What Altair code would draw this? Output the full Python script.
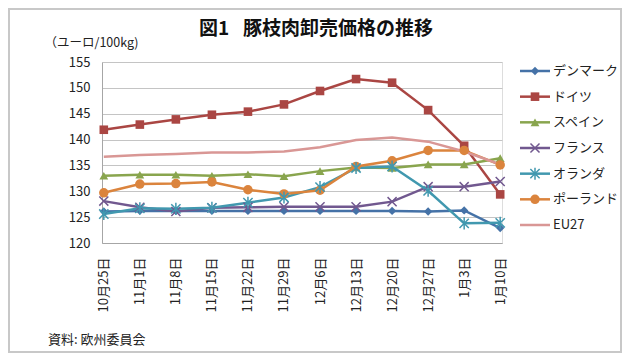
import altair as alt
import pandas as pd

dates = ["10月25日", "11月1日", "11月8日", "11月15日", "11月22日", "11月29日",
         "12月6日", "12月13日", "12月20日", "12月27日", "1月3日", "1月10日"]
series_names = ["デンマーク", "ドイツ", "スペイン", "フランス", "オランダ", "ポーランド", "EU27"]
denmark = [126.1, 126.2, 126.2, 126.2, 126.2, 126.2, 126.2, 126.2, 126.2, 126.1, 126.3, 122.9]
germany = [141.9, 142.9, 143.9, 144.8, 145.4, 146.8, 149.4, 151.7, 151.0, 145.7, 138.8, 129.4]
spain = [133.0, 133.2, 133.2, 133.0, 133.3, 132.9, 133.9, 134.6, 134.5, 135.2, 135.2, 136.4]
france = [128.1, 126.9, 126.1, 126.8, 126.9, 127.0, 127.0, 127.0, 128.0, 130.9, 130.9, 131.9]
netherlands = [125.6, 126.7, 126.6, 126.8, 127.8, 128.8, 130.8, 134.5, 134.8, 130.1, 123.8, 123.9]
poland = [129.7, 131.4, 131.5, 131.8, 130.3, 129.5, 130.2, 134.8, 135.9, 137.9, 137.9, 135.1]
eu27 = [136.7, 137.0, 137.2, 137.5, 137.5, 137.7, 138.5, 139.9, 140.4, 139.6, 137.7, 135.2]
y_ticks = [120, 125, 130, 135, 140, 145, 150, 155]

title_text = "図1 \u2002豚枝肉卸売価格の推移"
unit_text = "（ユーロ/100kg)"
source_text = "資料: 欧州委員会"

colors = ["#4572A7", "#AA4643", "#89A54E", "#71588F", "#4198AF", "#DB843D", "#D99795"]
marker_series = ["デンマーク", "ドイツ", "スペイン", "フランス", "オランダ", "ポーランド"]
marker_shapes = ["diamond", "square", "triangle-up",
                 "M-1,-1L1,1M-1,1L1,-1",
                 "M-1,-1L1,1M-1,1L1,-1M0,-1.3L0,1.3",
                 "circle"]
marker_sizes = [70, 90, 90, 64, 81, 110]
filled_series = ["デンマーク", "ドイツ", "スペイン", "ポーランド"]
stroked_series = ["フランス", "オランダ"]

FONT = "Noto Sans CJK JP"

values = [denmark, germany, spain, france, netherlands, poland, eu27]
rows = []
for name, vals in zip(series_names, values):
    for d, v in zip(dates, vals):
        rows.append({"date": d, "series": name, "value": v})
df = pd.DataFrame(rows)
legend_df = pd.DataFrame({"series": series_names})

color_enc = alt.Color("series:N", scale=alt.Scale(domain=series_names, range=colors), legend=None)
shape_enc = alt.Shape("series:N", scale=alt.Scale(domain=marker_series, range=marker_shapes), legend=None)
size_enc = alt.Size("series:N", scale=alt.Scale(domain=marker_series, range=marker_sizes), legend=None)

x_enc = alt.X("date:N", sort=dates, scale=alt.Scale(type="point", padding=0.05),
              axis=alt.Axis(title=None, labelAngle=-90, labelFont=FONT, labelFontSize=13,
                            labelColor="#222222", ticks=False, labelPadding=14,
                            domainColor="#A6A6A6", grid=False))
y_enc = alt.Y("value:Q", scale=alt.Scale(domain=[120, 155], nice=False, zero=False),
              axis=alt.Axis(values=y_ticks, title=unit_text, titleAngle=0, titleX=-58, titleY=-20,
                            titleAlign="left", titleBaseline="middle", titleFont=FONT,
                            titleFontSize=12.5, titleFontWeight="normal", titleColor="#222222",
                            labelFont=FONT, labelFontSize=13, labelColor="#222222", ticks=False,
                            labelOverlap=False, labelPadding=12, domainColor="#A6A6A6",
                            gridColor="#C4C4C4", grid=True))

base = alt.Chart(df)
lines = base.mark_line(strokeWidth=2.5).encode(x=x_enc, y=y_enc, color=color_enc, detail="series:N")
pts_filled = base.transform_filter(
    alt.FieldOneOfPredicate(field="series", oneOf=filled_series)
).mark_point(filled=True, opacity=1).encode(x=x_enc, y=y_enc, color=color_enc,
                                             shape=shape_enc, size=size_enc)
pts_stroked = base.transform_filter(
    alt.FieldOneOfPredicate(field="series", oneOf=stroked_series)
).mark_point(filled=False, opacity=1, strokeWidth=1.5).encode(x=x_enc, y=y_enc, color=color_enc,
                                                              shape=shape_enc, size=size_enc)
main = alt.layer(lines, pts_filled, pts_stroked)

ly = alt.Y("series:N", sort=series_names,
           scale=alt.Scale(type="point", range=[9, 163], padding=0), axis=None)
lbase = alt.Chart(legend_df)
l_rules = lbase.mark_rule(strokeWidth=2.5).encode(y=ly, x=alt.value(418), x2=alt.value(448),
                                                    color=color_enc)
l_filled = lbase.transform_filter(
    alt.FieldOneOfPredicate(field="series", oneOf=filled_series)
).mark_point(filled=True, opacity=1).encode(y=ly, x=alt.value(433), color=color_enc,
                                             shape=shape_enc, size=size_enc)
l_stroked = lbase.transform_filter(
    alt.FieldOneOfPredicate(field="series", oneOf=stroked_series)
).mark_point(filled=False, opacity=1, strokeWidth=1.5).encode(y=ly, x=alt.value(433), color=color_enc,
                                                              shape=shape_enc, size=size_enc)
l_text = lbase.mark_text(align="left", baseline="middle", font=FONT, fontSize=13,
                         color="#222222").encode(y=ly, x=alt.value(451), text="series:N")
legend = alt.layer(l_rules, l_filled, l_stroked, l_text)

src = alt.Chart(pd.DataFrame({"t": [source_text]})).mark_text(
    align="left", baseline="middle", font=FONT, fontSize=13, color="#222222"
).encode(text="t:N", x=alt.value(-54), y=alt.value(278))

ttl = alt.Chart(pd.DataFrame({"t": [title_text]})).mark_text(
    align="center", baseline="middle", font=FONT, fontSize=19, fontWeight="bold", color="#111111"
).encode(text="t:N", x=alt.value(214), y=alt.value(-33))

frame = alt.Chart(pd.DataFrame({"t": [source_text]})).mark_rect(
    fill=None, stroke="#C8C8C8", strokeWidth=2
).encode(x=alt.value(-93), x2=alt.value(519), y=alt.value(-53), y2=alt.value(290))

chart = alt.layer(frame, main, legend, src, ttl).resolve_scale(y="independent").properties(
    width=400, height=181,
    autosize=alt.AutoSizeParams(type="none"),
    padding={"left": 94, "top": 54, "right": 120, "bottom": 110},
).configure_view(stroke=None).configure(background="white")

chart.save("out.html", embed_options={"renderer": "svg", "actions": False})
